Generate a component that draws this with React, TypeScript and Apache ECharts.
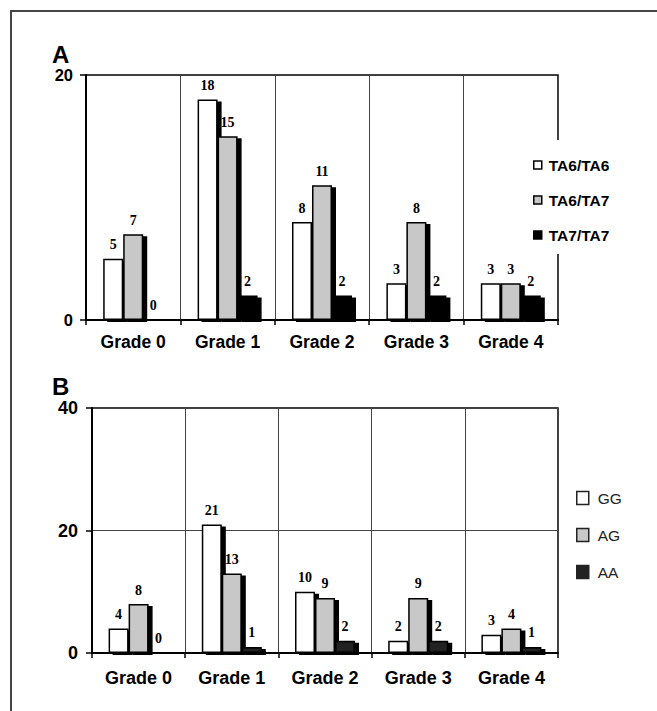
import React, { useEffect, useRef } from "react";
import * as echarts from "echarts";

const categories = ["Grade 0", "Grade 1", "Grade 2", "Grade 3", "Grade 4"];
const seriesNamesA = ["TA6/TA6", "TA6/TA7", "TA7/TA7"];
const valuesA_TA6TA6 = [5, 18, 8, 3, 3];
const valuesA_TA6TA7 = [7, 15, 11, 8, 3];
const valuesA_TA7TA7 = [0, 2, 2, 2, 2];
const seriesNamesB = ["GG", "AG", "AA"];
const valuesB_GG = [4, 21, 10, 2, 3];
const valuesB_AG = [8, 13, 9, 9, 4];
const valuesB_AA = [0, 1, 2, 2, 1];

const colorsA = ["#ffffff", "#c8c8c8", "#000000"];
const colorsB = ["#ffffff", "#c8c8c8", "#222222"];

export default function App() {
  const ref = useRef<HTMLDivElement>(null);
  useEffect(() => {
    if (!ref.current) return;
    const chart = echarts.init(ref.current, undefined, { renderer: "svg" });
    const labelStyle = {
      show: true,
      position: "top" as const,
      distance: 7,
      fontFamily: "Liberation Serif",
      fontWeight: "bold" as const,
      fontSize: 14,
      color: "#000",
    };
    const mkSeries = (
      names: string[],
      data: number[][],
      colors: string[],
      idx: number
    ) =>
      names.map((n, i) => ({
        name: n,
        type: "bar" as const,
        xAxisIndex: idx,
        yAxisIndex: idx,
        data: data[i],
        barWidth: 20,
        barGap: "0%",
        label: labelStyle,
        itemStyle: {
          color: colors[i],
          borderColor: "#000",
          borderWidth: 1.5,
          shadowColor: "#000",
          shadowBlur: 0,
          shadowOffsetX: 4,
          shadowOffsetY: 2,
        },
      }));
    const xAxisCommon = (idx: number, fontSize: number, margin: number) => ({
      type: "category" as const,
      gridIndex: idx,
      data: categories,
      axisLine: { lineStyle: { color: "#000", width: 2 } },
      axisTick: { show: true, length: 5, lineStyle: { color: "#000", width: 1.5 } },
      axisLabel: {
        fontFamily: "Liberation Sans",
        fontWeight: "bold" as const,
        fontSize,
        color: "#000",
        margin,
      },
      splitLine: { show: true, lineStyle: { color: "#444", width: 1 } },
    });
    chart.setOption({
      animation: false,
      grid: [
        { left: 86, top: 75, width: 472, height: 245, show: true, borderColor: "#000", borderWidth: 1.5 },
        { left: 92, top: 408, width: 466, height: 245, show: true, borderColor: "#000", borderWidth: 1.5 },
      ],
      xAxis: [xAxisCommon(0, 17.5, 13), xAxisCommon(1, 18, 16)],
      yAxis: [
        {
          type: "value",
          gridIndex: 0,
          min: 0,
          max: 20,
          interval: 20,
          axisLine: { show: true, lineStyle: { color: "#000", width: 2 } },
          axisTick: { show: true, length: 6, lineStyle: { color: "#000", width: 1.5 } },
          axisLabel: { fontFamily: "Liberation Sans", fontWeight: "bold", fontSize: 16.5, color: "#000", margin: 13 },
          splitLine: { show: false },
        },
        {
          type: "value",
          gridIndex: 1,
          min: 0,
          max: 40,
          interval: 20,
          axisLine: { show: true, lineStyle: { color: "#000", width: 2 } },
          axisTick: { show: true, length: 6, lineStyle: { color: "#000", width: 1.5 } },
          axisLabel: { fontFamily: "Liberation Sans", fontWeight: "bold", fontSize: 18, color: "#000", margin: 14 },
          splitLine: { show: true, lineStyle: { color: "#444", width: 1 } },
        },
      ],
      legend: [
        {
          orient: "vertical",
          left: 526,
          top: 140,
          padding: [17, 8, 11, 7],
          backgroundColor: "#fff",
          itemWidth: 8,
          itemHeight: 8,
          itemGap: 19,
          icon: "rect",
          textStyle: { fontFamily: "Liberation Sans", fontWeight: "bold", fontSize: 15.5, color: "#000", padding: [0, 0, 0, 2] },
          data: seriesNamesA.map((n, i) => ({
            name: n,
            itemStyle: { color: colorsA[i], borderColor: "#000", borderWidth: 1.5, shadowOffsetX: 0, shadowOffsetY: 0, shadowColor: "transparent" },
          })),
        },
        {
          orient: "vertical",
          left: 576,
          top: 490,
          padding: 0,
          itemWidth: 12,
          itemHeight: 13,
          itemGap: 21,
          icon: "rect",
          textStyle: { fontFamily: "Liberation Sans", fontSize: 15.5, color: "#222", padding: [0, 0, 0, 4] },
          data: seriesNamesB.map((n, i) => ({
            name: n,
            itemStyle: { color: colorsB[i], borderColor: "#222", borderWidth: 1.5, shadowOffsetX: 0, shadowOffsetY: 0, shadowColor: "transparent" },
          })),
        },
      ],
      graphic: [
        {
          type: "rect",
          shape: { x: 11, y: 11, width: 720, height: 780 },
          style: { fill: "none", stroke: "#444", lineWidth: 2 },
          silent: true,
        },
        {
          type: "text",
          x: 52,
          y: 42,
          style: { text: "A", fontFamily: "Liberation Sans", fontWeight: "bold", fontSize: 24, fill: "#000" },
        },
        {
          type: "text",
          x: 52,
          y: 374,
          style: { text: "B", fontFamily: "Liberation Sans", fontWeight: "bold", fontSize: 24, fill: "#000" },
        },
      ],
      series: [
        ...mkSeries(seriesNamesA, [valuesA_TA6TA6, valuesA_TA6TA7, valuesA_TA7TA7], colorsA, 0),
        ...mkSeries(seriesNamesB, [valuesB_GG, valuesB_AG, valuesB_AA], colorsB, 1),
      ],
    });
    return () => chart.dispose();
  }, []);
  return (
    <div
      ref={ref}
      style={{ position: "fixed", left: 0, top: 0, width: 657, height: 711, background: "#fff" }}
    />
  );
}
